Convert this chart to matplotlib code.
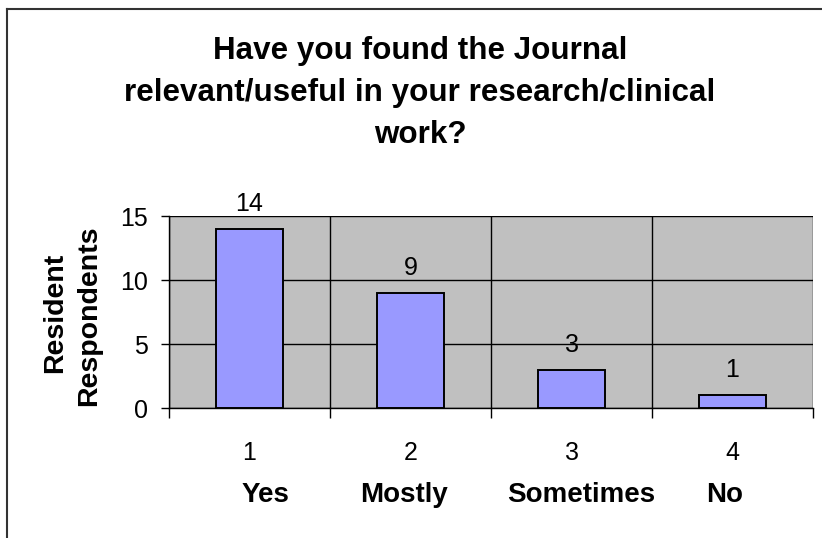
import matplotlib
matplotlib.use('Agg')
import matplotlib.pyplot as plt
from matplotlib.lines import Line2D

# chart data
positions = [1, 2, 3, 4]
answers = ['Yes', 'Mostly', 'Sometimes', 'No']
respondents = [14, 9, 3, 1]
# the answer words sit a little off-centre in the original
answer_shift = [0.1, -0.04, 0.06, -0.05]
title_lines = ['Have you found the Journal',
               'relevant/useful in your research/clinical',
               'work?']
ylabel_lines = ['Resident', 'Respondents']

W, H = 822, 538

plt.rcParams['font.family'] = ['Liberation Sans', 'DejaVu Sans']

fig = plt.figure(figsize=(W / 100, H / 100), dpi=100)
ax = fig.add_axes([169 / W, 1 - 408 / H, 644 / W, 192 / H])

ax.set_facecolor('#c0c0c0')
ax.bar(positions, respondents, width=0.41, color='#9999ff',
       edgecolor='black', linewidth=1.4, zorder=3)

for x, v in zip(positions, respondents):
    ax.annotate(str(v), (x, v), xytext=(0, 13), textcoords='offset points',
                ha='center', va='baseline', fontsize=18)

ax.set_xlim(0.5, 4.5)
ax.set_ylim(0, 15)
ax.set_yticks([0, 5, 10, 15])
ax.set_xticks(positions)
ax.set_xticklabels([str(p) for p in positions], fontsize=18)
ax.set_xticks([0.5, 1.5, 2.5, 3.5, 4.5], minor=True)
ax.tick_params(axis='x', which='major', length=0, pad=24)
ax.tick_params(axis='x', which='minor', length=7, width=1, direction='out')
ax.tick_params(axis='y', labelsize=18, length=6, width=1, pad=9)

ax.grid(axis='y', color='black', linewidth=1, zorder=1)
ax.grid(axis='x', which='minor', color='black', linewidth=1, zorder=1)
ax.set_axisbelow(True)

for side in ['top', 'right']:
    ax.spines[side].set_visible(False)
for side in ['left', 'bottom']:
    ax.spines[side].set_linewidth(1)

# answer words under the number row
for x, name, dx in zip(positions, answers, answer_shift):
    ax.text(x + dx, -(502 - 408) / 192, name, transform=ax.get_xaxis_transform(),
            ha='center', va='baseline', fontsize=20, fontweight='bold')

# y axis title, two lines
for bx, cy, line in zip([62, 96], [313, 316], ylabel_lines):
    fig.text(bx / W, 1 - cy / H, line, rotation=90, rotation_mode='anchor',
             ha='center', va='baseline', fontsize=20.5, fontweight='bold')

# chart title, three lines
for by, line in zip([59, 101, 143], title_lines):
    fig.text(420 / W, 1 - by / H, line, ha='center', va='baseline',
             fontsize=22.6, fontweight='bold')

# frame of the chart area (cropped at right and bottom)
fig.add_artist(Line2D([7 / W, 7 / W], [0, 1 - 9 / H], color='#333333',
                      linewidth=1.5, transform=fig.transFigure))
fig.add_artist(Line2D([7 / W, 1], [1 - 9 / H, 1 - 9 / H], color='#333333',
                      linewidth=1.5, transform=fig.transFigure))

fig.savefig('out.png', dpi=100)
